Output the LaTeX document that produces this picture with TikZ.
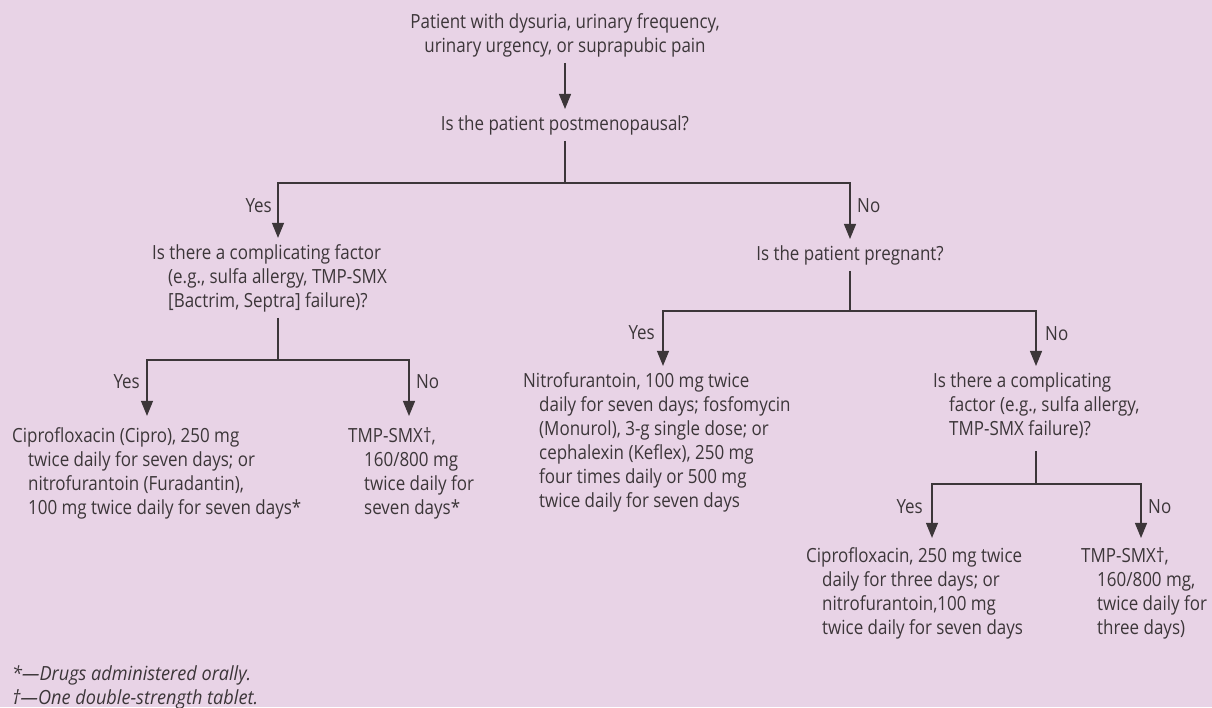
\documentclass[tikz,border=0pt]{standalone}
\usepackage{fontspec}
\setmainfont{Open Sans}[FakeStretch=0.87]
\newfontfamily\notefont{Open Sans}[FakeStretch=0.93]
\usepackage{tikz}
\usetikzlibrary{arrows.meta}
\usetikzlibrary{positioning}
\definecolor{bgpink}{RGB}{232,211,230}
\definecolor{ink}{RGB}{60,54,57}
\newcommand{\hangsp}{\hspace*{16pt}}

\begin{document}
\begin{tikzpicture}[x=1pt, y=-1pt, font=\fontsize{19.5}{24}\selectfont, text=ink,
    txt/.style={inner xsep=0pt, inner ysep=6pt, align=left, anchor=base west},
    ctr/.style={inner xsep=0pt, inner ysep=6pt, align=center, anchor=base},
    lbl/.style={inner sep=0pt},
    ln/.style={draw=ink, line width=1.2pt},
    arr/.style={ln, -{Triangle[length=15pt, width=12pt]}}]
  \fill[bgpink] (0,0) rectangle (1212,707);
  \useasboundingbox (0,0) rectangle (1212,707);

  % questions (placed by the baseline of their last line)
  \node[ctr] (start) at (565,52) {Patient with dysuria, urinary frequency,\\urinary urgency, or suprapubic pain};
  \node[ctr] (meno) at (565,130) {Is the patient postmenopausal?};
  \node[txt] (compl) at (152,307) {Is there a complicating factor\\
    \hangsp(e.g., sulfa allergy, TMP-SMX\\
    \hangsp[Bactrim, Septra] failure)?};
  \node[ctr] (preg) at (850,260) {Is the patient pregnant?};
  \node[txt] (complb) at (933,435) {Is there a complicating\\
    \hangsp factor (e.g., sulfa allergy,\\
    \hangsp TMP-SMX failure)?};

  % treatments
  \node[txt] (cipro) at (12,514) {Ciprofloxacin (Cipro), 250 mg\\
    \hangsp twice daily for seven days; or\\
    \hangsp nitrofurantoin (Furadantin),\\
    \hangsp 100 mg twice daily for seven days*};
  \node[txt] (tmp) at (348,514) {TMP-SMX†,\\
    \hangsp 160/800 mg\\
    \hangsp twice daily for\\
    \hangsp seven days*};
  \node[txt] (nitro) at (523,507) {Nitrofurantoin, 100 mg twice\\
    \hangsp daily for seven days; fosfomycin\\
    \hangsp (Monurol), 3-g single dose; or\\
    \hangsp cephalexin (Keflex), 250 mg\\
    \hangsp four times daily or 500 mg\\
    \hangsp twice daily for seven days};
  \node[txt] (ciprob) at (806,634) {Ciprofloxacin, 250 mg twice\\
    \hangsp daily for three days; or\\
    \hangsp nitrofurantoin,100 mg\\
    \hangsp twice daily for seven days};
  \node[txt] (tmpb) at (1081,634) {TMP-SMX†,\\
    \hangsp 160/800 mg,\\
    \hangsp twice daily for\\
    \hangsp three days)};

  % footnotes
  \node[txt, font=\fontsize{19.5}{24}\notefont\itshape] (notes) at (12,704) {*—Drugs administered orally.\\
    †—One double-strength tablet.};

  % branch points
  \coordinate (j1) at (565,183);
  \coordinate (j1l) at (278,183);
  \coordinate (j1r) at (850,183);
  \coordinate (j2) at (278,360);
  \coordinate (j2l) at (147,360);
  \coordinate (j2r) at (409,360);
  \coordinate (j3) at (850,311);
  \coordinate (j3l) at (663,311);
  \coordinate (j3r) at (1036,311);
  \coordinate (j4) at (1036,484);
  \coordinate (j4l) at (932,484);
  \coordinate (j4r) at (1141,484);

  \draw[arr] (start) -- (meno);
  \draw[ln] (meno) -- (j1);
  \draw[arr] (j1) -- (j1l) -- (j1l |- compl.north);
  \draw[arr] (j1) -- (j1r) -- (j1r |- preg.north);

  \draw[ln] (compl.south -| j2) -- (j2);
  \draw[arr, shorten >=5pt] (j2) -- (j2l) -- (j2l |- cipro.north);
  \draw[arr, shorten >=5pt] (j2) -- (j2r) -- (j2r |- tmp.north);

  \draw[ln] (preg) -- (j3);
  \draw[arr] (j3) -- (j3l) -- (j3l |- nitro.north);
  \draw[arr] (j3) -- (j3r) -- (j3r |- complb.north);

  \draw[ln, shorten <=7pt] (complb.south -| j4) -- (j4);
  \draw[arr, shorten >=3pt] (j4) -- (j4l) -- (j4l |- ciprob.north);
  \draw[arr, shorten >=3pt] (j4) -- (j4r) -- (j4r |- tmpb.north);

  % yes / no
  \node[lbl, anchor=base east] (yes1) at (272,212) {Yes};
  \node[lbl, anchor=base west] (no1) at (857,212) {No};
  \node[lbl, anchor=base east] (yes2) at (140,388) {Yes};
  \node[lbl, anchor=base west] (no2) at (416,388) {No};
  \node[lbl, anchor=base east] (yes3) at (655,339) {Yes};
  \node[lbl, anchor=base west] (no3) at (1045,340) {No};
  \node[lbl, anchor=base east] (yes4) at (923,513) {Yes};
  \node[lbl, anchor=base west] (no4) at (1148,513) {No};
\end{tikzpicture}
\end{document}
